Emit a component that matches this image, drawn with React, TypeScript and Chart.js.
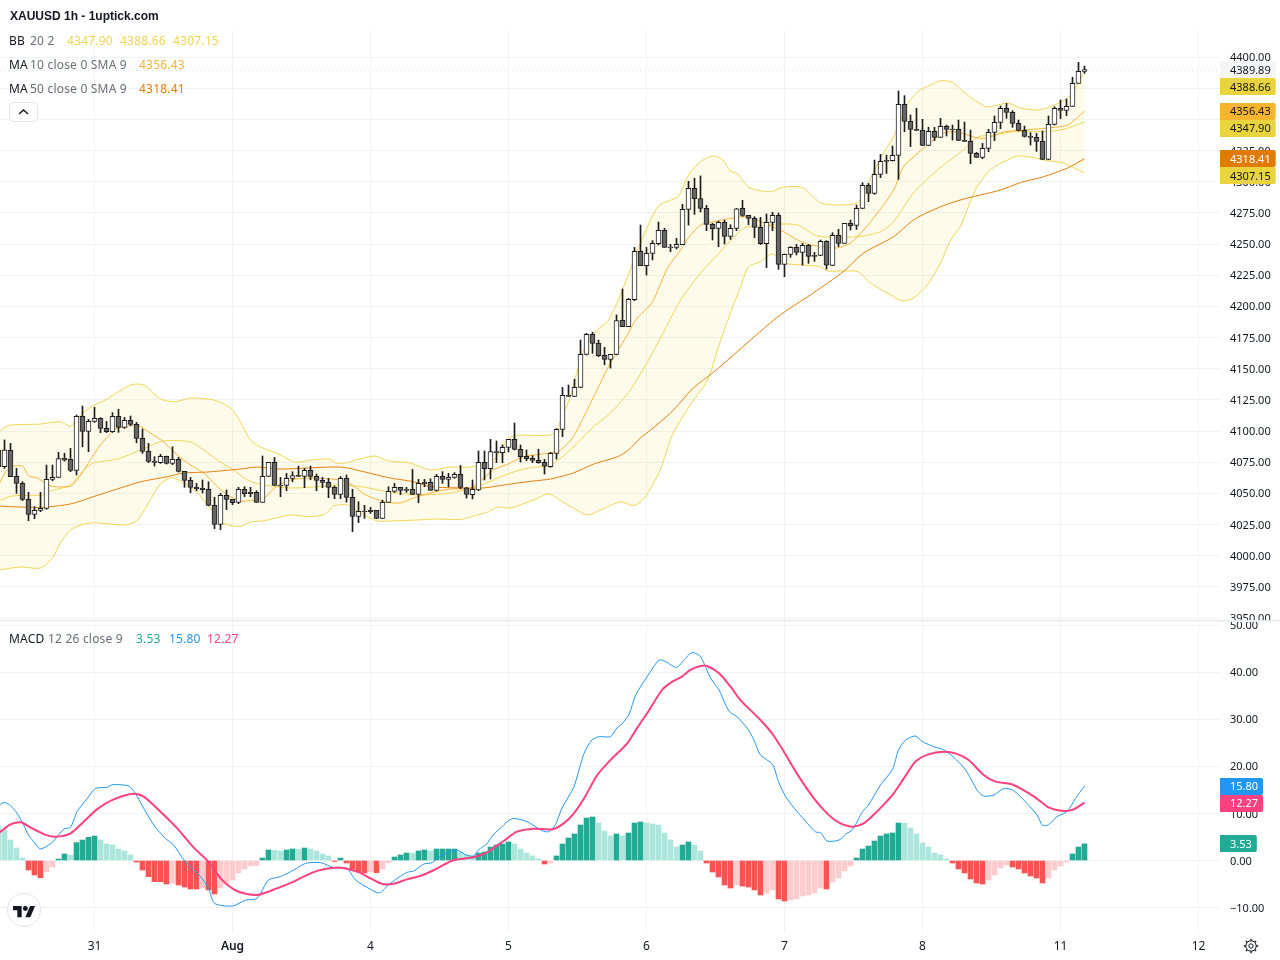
import React, { useEffect, useRef } from "react";
import { Chart, registerables } from "chart.js";

Chart.register(...registerables);

const opens = [
  4084.7,4071.4,4084.5,4063.6,4058.0,4045.2,4033.1,4036.3,4038.0,4061.2,
  4062.8,4078.1,4077.3,4068.4,4111.8,4099.7,4107.7,4110.2,4102.1,4099.5,
  4111.8,4102.9,4108.5,4105.3,4094.1,4083.7,4075.9,4074.6,4079.7,4074.0,
  4077.3,4067.6,4060.4,4054.8,4054.0,4053.2,4040.4,4025.1,4048.4,4045.2,
  4042.8,4053.2,4050.8,4050.8,4042.8,4063.6,4074.9,4056.4,4056.4,4062.0,
  4064.4,4063.6,4068.4,4063.6,4060.4,4058.8,4054.8,4049.2,4062.0,4046.8,
  4031.5,4035.5,4036.3,4036.3,4029.9,4042.8,4051.6,4054.8,4053.5,4053.2,
  4049.2,4058.8,4058.8,4052.4,4063.6,4061.2,4062.8,4065.2,4054.5,4048.9,
  4052.7,4074.9,4069.8,4083.4,4082.6,4086.9,4093.3,4085.3,4079.7,4078.1,
  4076.5,4074.9,4071.4,4082.1,4101.3,4128.6,4127.8,4135.0,4161.5,4177.6,
  4170.3,4160.7,4157.5,4161.5,4188.8,4183.7,4205.3,4244.1,4232.6,4242.5,
  4250.3,4261.0,4247.6,4247.3,4249.5,4277.8,4294.7,4286.4,4278.6,4265.8,
  4262.6,4267.4,4256.1,4262.6,4278.6,4273.0,4270.6,4263.4,4250.3,4267.4,
  4273.0,4233.7,4241.7,4247.3,4243.3,4248.9,4240.9,4240.9,4252.1,4232.9,
  4257.0,4250.5,4266.5,4264.9,4278.6,4297.0,4290.6,4305.8,4317.1,4316.8,
  4321.1,4362.0,4348.4,4342.0,4341.2,4329.1,4340.4,4335.5,4344.4,4342.2,
  4342.0,4333.1,4332.3,4322.7,4319.5,4326.7,4339.6,4347.6,4358.8,4355.6,
  4346.8,4341.2,4336.3,4335.5,4332.3,4317.9,4345.9,4358.8,4357.2,4360.4,
  4378.9,4388.5,
];
const highs = [
  4088.8,4092.8,4090.1,4070.0,4059.3,4050.8,4039.3,4050.8,4072.7,4072.7,
  4082.9,4082.1,4086.1,4112.8,4120.0,4109.3,4119.0,4110.7,4107.7,4114.7,
  4117.4,4110.9,4112.0,4106.9,4101.6,4090.1,4079.4,4081.3,4079.9,4087.4,
  4078.9,4067.6,4062.8,4058.0,4060.7,4059.3,4046.8,4050.0,4052.7,4045.2,
  4054.8,4055.3,4054.8,4052.1,4079.9,4074.9,4078.9,4062.8,4066.0,4067.4,
  4071.9,4070.0,4071.9,4065.5,4062.8,4062.0,4055.9,4063.4,4064.7,4053.2,
  4043.3,4040.4,4038.8,4036.3,4044.6,4055.3,4058.0,4054.8,4054.8,4069.2,
  4061.2,4061.2,4061.7,4065.2,4067.4,4066.0,4066.6,4072.4,4054.8,4060.7,
  4084.0,4084.0,4093.3,4092.0,4088.8,4093.3,4106.4,4088.8,4084.8,4080.2,
  4085.3,4077.3,4082.9,4101.9,4135.0,4136.9,4141.5,4173.0,4178.4,4179.2,
  4173.0,4167.1,4161.5,4193.1,4213.9,4206.4,4247.3,4265.2,4247.3,4252.7,
  4267.6,4262.6,4249.7,4254.5,4281.8,4300.3,4302.7,4304.6,4281.0,4266.6,
  4268.4,4269.0,4265.5,4278.6,4285.0,4273.0,4271.9,4271.4,4274.1,4275.4,
  4274.9,4242.0,4247.9,4249.7,4250.5,4249.7,4243.3,4253.2,4252.7,4259.1,
  4261.8,4266.5,4269.2,4281.2,4299.2,4298.6,4317.3,4321.9,4321.3,4328.6,
  4372.7,4369.0,4353.5,4358.8,4350.0,4343.6,4343.6,4350.8,4345.4,4345.4,
  4349.4,4347.8,4341.4,4323.5,4330.7,4342.0,4352.7,4360.7,4362.8,4356.9,
  4349.4,4344.6,4339.3,4338.7,4340.6,4352.7,4360.1,4365.5,4366.3,4383.7,
  4395.7,4392.8,
];
const lows = [
  4069.0,4070.0,4063.4,4050.0,4044.1,4028.1,4029.7,4035.3,4037.2,4060.1,
  4062.6,4075.9,4067.4,4064.7,4087.4,4083.4,4106.9,4098.7,4098.7,4098.9,
  4098.9,4102.1,4104.3,4090.6,4082.1,4074.6,4071.9,4074.0,4073.5,4073.0,
  4067.1,4054.8,4050.5,4052.1,4050.3,4040.1,4021.6,4020.8,4036.9,4040.9,
  4041.7,4047.3,4047.3,4042.8,4042.8,4063.6,4056.4,4047.3,4052.1,4059.3,
  4063.6,4054.5,4060.9,4052.1,4054.5,4046.5,4045.7,4045.7,4043.0,4019.2,
  4026.5,4029.9,4033.9,4029.7,4029.7,4042.8,4050.8,4048.9,4050.8,4048.9,
  4042.5,4055.3,4052.4,4051.9,4058.0,4055.3,4062.0,4053.7,4046.2,4045.5,
  4052.1,4060.7,4061.5,4074.6,4074.6,4083.2,4084.8,4075.1,4076.2,4074.6,
  4074.1,4065.5,4070.9,4077.5,4095.5,4127.5,4127.5,4134.8,4161.0,4162.3,
  4159.6,4153.2,4150.5,4161.0,4183.7,4183.7,4204.5,4232.6,4225.1,4237.2,
  4249.2,4247.3,4243.8,4246.0,4249.5,4265.2,4273.8,4275.7,4260.7,4253.2,
  4247.9,4250.0,4253.7,4260.7,4272.2,4265.5,4255.1,4249.5,4231.0,4260.7,
  4229.7,4223.8,4239.3,4241.2,4233.1,4234.5,4236.1,4240.6,4229.9,4232.6,
  4247.9,4250.5,4261.2,4261.7,4278.3,4283.9,4289.8,4303.2,4306.6,4316.6,
  4301.8,4340.1,4328.1,4340.9,4328.9,4328.9,4332.9,4335.5,4336.6,4333.4,
  4332.9,4332.1,4314.4,4319.5,4318.4,4324.0,4332.9,4342.5,4350.8,4343.6,
  4340.6,4335.8,4329.4,4324.3,4317.6,4317.6,4345.4,4350.5,4352.9,4360.4,
  4378.9,4386.9,
];
const closes = [
  4071.4,4084.7,4063.4,4058.0,4045.2,4033.1,4036.3,4038.0,4061.2,4062.8,
  4077.8,4076.7,4068.4,4111.8,4099.7,4107.7,4110.2,4102.1,4099.5,4111.8,
  4102.9,4108.5,4105.3,4094.1,4083.7,4075.7,4074.9,4079.7,4074.0,4077.3,
  4067.6,4060.4,4054.8,4053.7,4052.9,4040.4,4025.1,4048.4,4045.2,4042.5,
  4053.2,4049.7,4049.7,4042.8,4063.6,4074.9,4056.4,4055.9,4062.0,4064.2,
  4063.6,4068.4,4063.6,4060.4,4058.8,4054.8,4049.2,4062.0,4046.8,4031.5,
  4035.5,4035.3,4035.3,4029.9,4042.8,4051.6,4054.8,4052.4,4052.4,4049.2,
  4058.0,4057.7,4052.4,4063.6,4061.2,4062.8,4065.2,4054.8,4049.2,4053.2,
  4074.9,4069.8,4083.4,4082.6,4086.9,4093.3,4085.3,4079.4,4077.8,4076.5,
  4074.6,4071.7,4082.1,4101.3,4128.6,4127.8,4135.0,4161.5,4177.6,4170.3,
  4160.4,4157.5,4161.5,4188.5,4183.7,4205.6,4244.1,4232.6,4242.5,4250.5,
  4261.0,4247.3,4247.1,4249.7,4277.8,4294.7,4286.4,4278.6,4265.8,4262.3,
  4267.4,4256.1,4262.6,4278.3,4273.0,4270.6,4263.4,4250.3,4267.4,4273.0,
  4233.7,4241.7,4247.3,4243.3,4248.9,4240.1,4240.1,4252.1,4233.1,4257.0,
  4250.5,4266.5,4264.7,4278.6,4297.0,4290.6,4305.8,4316.3,4316.3,4321.1,
  4362.0,4348.4,4342.0,4341.2,4329.1,4340.4,4335.5,4344.4,4342.0,4341.7,
  4333.1,4332.3,4322.7,4319.5,4326.7,4339.6,4347.6,4358.8,4355.6,4346.8,
  4341.2,4336.3,4335.5,4332.3,4317.9,4345.9,4358.8,4357.2,4360.4,4378.9,
  4388.5,4389.89,
];

const bbUpperAt = [0,1,2,7,10.3,12,12.7,14,16,17.8,20,22,23.2,24.5,27,29.5,32,35.8,38.7,40.3,42,44,46.2,49.5,52,55.3,56.2,57.8,59.5,62.8,64.5,66.2,68.7,72,75.3,78.7,82.5,85.3,92,93.2,93.7,95.3,97.5,99.8,101.7,104.2,107,110,113.2,115,117,119,120.7,122,123.2,125,127.8,129.2,130.8,134,137,140,143.2,144.2,147.5,149.5,151.2,153.2,155.3,157,159,160.8,162.8,164.8,166.5,168.3,170.3,173.2,175.3,178.2,179.8,181];
const bbUpper = [4099.2,4102.7,4104.8,4105.6,4107.5,4103.5,4107.5,4114.4,4120.9,4124.9,4131.5,4136.9,4137.7,4136.3,4125.7,4123.5,4126.5,4124.9,4118.5,4107.5,4092.8,4086.4,4082.6,4075.1,4076.7,4077.5,4074.3,4074.3,4076.7,4080.0,4076.7,4075.4,4074.3,4068.7,4071.1,4071.1,4076.7,4095.2,4096.8,4101.6,4108.8,4127.5,4165.0,4181.0,4189.0,4215.8,4250.8,4280.5,4288.0,4305.3,4316.0,4320.6,4317.4,4308.6,4306.2,4295.7,4292.0,4292.5,4295.7,4295.2,4283.1,4281.3,4283.1,4292.0,4323.0,4339.0,4360.1,4372.2,4377.5,4381.0,4379.7,4372.2,4365.0,4359.9,4361.5,4363.1,4359.1,4357.5,4360.1,4367.1,4377.5,4388.66];

const bbLowerAt = [0,3.7,7,9,10.3,12,13.7,15.8,18.7,21.2,23.2,24.8,27,29,30.8,33.2,34.8,36.5,37.8,40.3,42,44.2,48.7,52,54.5,55.8,58.2,60.3,63.2,65.3,69.8,73.2,77,79.8,81.7,83.2,85.3,89.2,91.7,94,95.8,98.2,100.3,103.7,105.8,107,108,110.3,112.3,115.3,118.2,120,122,123.7,125,127,129,130.8,133.7,137,138.2,143.2,145.3,148.7,150.7,152.5,154.8,157,158.7,160.3,162.8,164.8,166.2,168.2,169.8,172,174.2,177.5,179.2,181];
const bbLower = [3988.5,3990.9,3990.1,3998.1,4010.2,4020.6,4024.6,4026.5,4025.4,4024.6,4028.6,4040.7,4057.5,4062.6,4058.3,4050.3,4040.7,4031.3,4025.4,4023.4,4027.0,4028.0,4032.6,4031.3,4033.4,4039.8,4040.7,4034.2,4027.8,4027.8,4028.6,4029.4,4029.0,4032.6,4035.3,4039.0,4038.2,4044.7,4049.5,4043.3,4038.2,4032.6,4036.6,4043.1,4040.1,4043.3,4048.7,4068.7,4096.8,4120.9,4140.9,4167.6,4194.7,4215.8,4231.6,4235.8,4242.0,4234.8,4233.2,4231.8,4228.3,4227.8,4218.7,4209.1,4204.3,4206.7,4217.1,4234.8,4253.2,4263.9,4293.3,4307.0,4312.6,4317.4,4320.6,4319.8,4317.4,4315.0,4311.0,4307.15];

const bbBasisAt = [0,2.3,7.5,8.7,12,14.2,15.8,19.8,23.7,27.5,32,34.2,36.5,39.2,41.5,44.2,48.7,52.5,57,60.8,64.8,69.8,75.3,80,85.3,88.7,92,95.3,99.2,102,105.3,109,113.7,117,119.8,124.2,126.5,130.3,133.2,136.5,143.2,147,149.2,152.5,156.5,160.8,163.2,165.8,169.2,173.2,177,181];
const bbBasis = [4043.9,4047.9,4048.7,4051.9,4056.7,4068.7,4074.3,4077.5,4084.8,4092.0,4091.2,4084.8,4076.7,4068.7,4060.7,4056.7,4054.3,4055.1,4056.7,4055.1,4051.3,4048.7,4050.3,4055.9,4066.3,4070.6,4072.7,4084.8,4103.5,4114.4,4132.9,4162.6,4205.1,4226.7,4241.2,4262.8,4264.4,4266.0,4265.2,4256.4,4255.9,4259.9,4267.9,4290.9,4309.4,4325.4,4335.8,4337.4,4340.1,4340.1,4341.4,4347.90];

const ma10At = [0,1.7,4,5,6.5,8.7,12,13.7,15.3,17,19.5,21.2,23.2,25.3,27.5,29.8,32,34.2,36.5,38.2,40.3,42.8,44.5,46.2,48.7,52,57,58.7,61.2,64.5,67,69.2,72,75.3,78.7,82.5,85.3,87.5,92,93.7,95.8,99.2,102,105,106.2,109,111.5,113.7,115,117,119.2,122.5,124.8,127.5,130.3,133.2,135.3,137.5,139.8,142,144.2,146.5,149.2,150.8,152.5,154.2,157.5,159.8,163.2,164.8,167.5,170.8,174.8,178.2,181];
const ma10 = [4056.7,4070.3,4071.9,4064.2,4062.3,4055.9,4055.9,4064.7,4076.7,4088.8,4101.6,4103.5,4104.8,4098.4,4091.4,4080.8,4072.7,4066.3,4055.3,4048.7,4043.9,4044.7,4047.1,4055.1,4060.7,4062.3,4060.7,4057.5,4048.7,4043.1,4042.3,4046.3,4050.3,4053.5,4054.3,4068.7,4074.3,4079.4,4082.4,4084.8,4095.4,4127.5,4154.6,4178.6,4189.0,4203.7,4230.8,4245.2,4255.1,4265.2,4267.9,4270.9,4271.9,4266.8,4261.2,4253.2,4249.2,4247.8,4246.8,4250.8,4261.2,4274.9,4293.3,4312.0,4319.8,4327.0,4339.0,4339.8,4335.0,4335.0,4339.8,4341.4,4343.0,4345.5,4356.43];

const ma50At = [0,3.7,7.5,12,15.8,20.3,23.7,28.2,30.8,34.8,40.3,43.2,47,57,60.8,65.3,69.2,72,77.5,80.8,85.3,89.2,92,95.8,99.2,103.2,105,107,108.7,112,113.7,115.8,119.2,122.5,129.2,131.5,135.8,140.8,144.2,149.2,152.5,156.5,160.3,167,170.3,174.2,178.2,181];
const ma50 = [4039.8,4039.0,4038.8,4041.5,4047.3,4054.3,4059.3,4063.4,4066.3,4067.1,4069.5,4071.1,4069.5,4071.1,4067.4,4062.3,4059.3,4055.3,4054.3,4054.3,4057.5,4059.9,4061.5,4066.3,4073.5,4079.4,4084.8,4094.4,4100.8,4114.4,4123.3,4134.5,4147.3,4161.0,4189.0,4197.1,4210.7,4227.8,4242.8,4255.9,4269.3,4278.9,4285.3,4293.3,4299.2,4304.0,4311.0,4318.41];

const macdHist = [
  7.2,6.48,4.35,2.65,.53,-2.02,-3.08,-3.64,-2.37,-1.38,
  .32,1.38,1.17,3.79,4.35,4.92,5.2,4.35,3.5,3.29,
  2.44,2.02,1.17,-.32,-2.02,-3.43,-4.49,-4.49,-4.99,-4.78,
  -5.2,-5.63,-6.05,-6.05,-5.84,-6.26,-7.11,-5.84,-4.99,-4.14,
  -2.65,-1.8,-1.17,-1.1,.53,2.23,2.15,2.02,2.23,2.44,
  2.4,2.65,2.44,2.02,1.38,.96,-.2,.53,-.53,-1.88,
  -2.44,-2.65,-2.4,-2.58,-1.8,-.46,.74,1.17,1.59,1.55,
  2.02,2.23,2.02,2.44,2.44,2.44,2.44,1.8,1.17,.96,
  1.59,1.8,2.87,3.29,3.5,3.93,3.5,2.44,1.59,.96,
  .32,-.74,-.53,.96,3.5,4.78,5.63,7.54,9.02,9.24,
  7.96,6.26,5.2,5.63,5.2,5.84,7.96,8.17,7.96,7.75,
  7.54,5.84,4.35,2.87,3.29,3.93,3.29,2.02,-.53,-2.44,
  -3.5,-5.2,-5.84,-5.2,-5.41,-5.63,-6.26,-7.32,-6.9,-6.26,
  -8.17,-8.6,-8.39,-8.17,-7.54,-7.32,-6.9,-5.84,-6.05,-4.56,
  -3.72,-2.23,-1.17,.53,2.44,3.08,4.14,5.2,5.63,5.84,
  7.96,7.9,6.9,5.63,3.72,2.87,1.59,1.17,.32,-.53,
  -1.8,-2.65,-3.93,-4.78,-4.99,-4.14,-3.08,-1.59,-.96,-1.38,
  -1.8,-2.65,-3.29,-3.72,-4.78,-3.72,-2.02,-1.17,-.32,1.38,
  2.87,3.53,
];

const macdAt = [0,1,2,3.1,4.2,5,6.2,7,8.9,10.9,12,13.1,14.8,16.2,18.1,19,21.7,22.8,24.2,26,27.8,29.2,30.9,33.7,35,36,39,41.2,43.1,45,47,49.2,51.2,53.7,55.9,58.1,59.5,62,63.5,65,66.2,68.1,69.2,70.9,72.3,73.7,76.2,78.1,79.2,80.1,81.2,82.6,83.9,85.1,85.9,88.1,90.6,91.7,92.8,93.9,95.9,97.6,98.9,100.1,102,103.1,103.9,105.1,106.2,108.1,110.1,111.2,113,114.5,115.3,115.9,117,118.7,120.1,121.2,122,123.1,125,125.9,127,129,130,131.2,133.1,134.8,136.2,137,138.1,140.1,141.2,142.3,144,145,147,149,150,151.2,152.8,154,155.9,157.6,159.2,161.2,163.1,164.2,165.9,167.6,169.2,171.4,173.1,174,175,176.4,178.1,179.5,181];
const macdLine = [11.7,12.35,11.64,10.01,7.54,5.41,3.5,2.44,3.79,6.69,7.04,10.37,13.2,15.32,15.53,16.1,15.82,14.26,11.08,7.32,4.71,3.29,.11,-3.43,-5.91,-9.09,-9.66,-8.39,-8.03,-4.14,-3.43,-2.02,-.6,-.46,-1.52,-1.66,-4.14,-6.12,-6.9,-5.2,-4.0,-2.51,-2.23,-.74,-.46,.96,2.23,1.1,.96,2.37,3.29,5.63,7.18,8.53,8.95,8.24,6.33,6.12,7.54,11.08,15.68,22.75,25.58,26.29,26.29,28.2,28.98,31.1,35.13,39.03,42.57,42.21,41.01,42.92,43.98,44.13,43.29,38.68,36.2,33.0,31.39,30.54,27.71,25.58,22.4,20.42,16.74,13.55,10.37,7.89,6.05,5.91,4.14,4.35,5.63,6.48,10.37,11.78,16.03,19.36,23.46,25.58,26.43,25.23,24.17,23.46,21.9,19.21,14.97,13.69,13.91,15.32,14.83,12.14,9.66,7.47,7.61,9.31,10.37,13.2,15.80];

const signalAt = [0,2,3.7,5.3,7.6,9.5,12,14.2,16.4,19.2,22.5,24.2,27,29.8,32.5,35,37,39.2,41.4,43.4,46.4,49.2,52,54.2,57,59.8,62,64,66,68.1,70.3,72.6,75.9,79.2,81.4,84.2,86.4,89.2,92.3,94.2,95.9,97.6,99.8,102,104.8,106.4,108.1,110.6,112.3,113.9,115.3,117,118.1,120.1,122,123.7,127,129,130.9,133.4,135.9,138.1,140.1,142.3,144.2,146.4,149,150.9,152.8,155,157.6,159.5,161.7,164.2,166.2,168.7,170.3,172.8,175,177.6,179.2,181];
const signalLine = [5.77,7.68,8.1,7.04,5.56,5.06,5.77,8.24,10.86,12.99,14.19,13.55,10.37,6.83,2.8,-.25,-3.79,-6.12,-7.11,-7.25,-5.91,-4.49,-2.72,-1.88,-1.52,-2.37,-3.79,-5.0,-4.9,-4.0,-3.29,-2.02,.1,.67,1.73,4.14,6.12,6.76,6.62,7.89,10.01,13.2,18.15,21.34,24.88,28.06,31.25,36.2,37.97,39.03,40.45,41.3,41.3,39.74,36.91,34.0,29.83,26.86,23.11,17.8,13.2,10.0,8.03,7.18,7.89,10.37,13.91,17.44,20.98,22.54,23.11,22.75,21.34,18.15,16.74,16.24,15.32,13.41,11.29,10.51,10.86,12.27];

const priceTicks = [3950,3975,4000,4025,4050,4075,4100,4125,4150,4175,4200,4225,4250,4275,4300,4325,4350,4375,4400];
const macdTicks = [-10,0,10,20,30,40,50];
const dayTickBars = [16,39,62,85,108,131,154,177,200];
const dayTickLabels = ["31","Aug","4","5","6","7","8","11","12"];

const FONT = '"Noto Sans", sans-serif';
const BB = "#f2d552";
const MA10 = "#f8b437";
const MA50 = "#e67e0a";
const INK = "#1c1c1c";

const toPoints = (at: number[], vals: number[]) => at.map((x, k) => ({ x, y: vals[k] }));
const bars = closes.map((_, i) => i);

const histColor = (v: number, i: number) => {
  const prev = i === 0 ? Infinity : macdHist[i - 1];
  if (v >= 0) return v >= prev ? "#22ab94" : "#ace5dc";
  return v <= prev ? "#ff5252" : "#fccbcd";
};

const last = (a: number[]) => a[a.length - 1];

const tagPlugin = {
  id: "paneDecor",
  afterDraw(chart: any) {
    const { ctx, scales, chartArea } = chart;
    const py = scales.y;
    const my = scales.y2;
    ctx.save();
    ctx.fillStyle = "#e6e8ee";
    ctx.fillRect(0, Math.round(py.bottom) - 1, 1280, 1);
    ctx.fillStyle = "#f3f4f6";
    ctx.fillRect(0, Math.round(py.bottom), 1280, 1);
    const ly = Math.round(py.getPixelForValue(last(closes))) + 0.5;
    ctx.strokeStyle = "#dcdfe3";
    ctx.setLineDash([1, 3]);
    ctx.beginPath();
    ctx.moveTo(0, ly);
    ctx.lineTo(chartArea.right, ly);
    ctx.stroke();
    ctx.setLineDash([]);
    ctx.font = `11px ${FONT}`;
    ctx.textBaseline = "middle";
    const drawTags = (scale: any, tags: any[]) => {
      const sorted = tags
        .map((t) => ({ ...t, px: scale.getPixelForValue(t.v) }))
        .sort((a, b) => a.px - b.px);
      let prev = -100;
      for (const t of sorted) {
        const c = Math.max(t.px, prev + 17);
        prev = c;
        const text = t.v.toFixed(2);
        const w = 15 + ctx.measureText(text).width;
        ctx.fillStyle = t.bg;
        ctx.beginPath();
        ctx.roundRect(chartArea.right, Math.round(c - 8.5), w, 17, [0, 2, 2, 0]);
        ctx.fill();
        ctx.fillStyle = t.fg;
        ctx.textAlign = "left";
        ctx.fillText(text, chartArea.right + 10, Math.round(c) + 0.5);
      }
    };
    drawTags(py, [
      { v: last(closes), bg: "#f5f5f5", fg: "#131722" },
      { v: last(bbUpper), bg: "#ead43e", fg: "#131722" },
      { v: last(ma10), bg: "#f9b42d", fg: "#131722" },
      { v: last(bbBasis), bg: "#ead43e", fg: "#131722" },
      { v: last(ma50), bg: "#e27a00", fg: "#ffffff" },
      { v: last(bbLower), bg: "#ead43e", fg: "#131722" },
    ]);
    drawTags(my, [
      { v: last(macdLine), bg: "#2196f3", fg: "#ffffff" },
      { v: last(signalLine), bg: "#ff4081", fg: "#ffffff" },
      { v: last(macdHist), bg: "#22ab94", fg: "#ffffff" },
    ]);
    ctx.restore();
  },
};

const gridColor = "#f1f2f4";

export default function App() {
  const ref = useRef<HTMLCanvasElement>(null);
  useEffect(() => {
    const candleData = (a: number[], b: number[]) =>
      bars.map((i) => ({ x: i, y: [Math.min(a[i], b[i]), Math.max(a[i], b[i])] }));
    const line = (label: string, at: number[], vals: number[], color: string, order: number, width = 1, axis = "y", extra: any = {}) => ({
      type: "line" as const,
      label,
      data: toPoints(at, vals),
      borderColor: color,
      borderWidth: width,
      pointRadius: 0,
      tension: 0.25,
      yAxisID: axis,
      order,
      fill: false,
      ...extra,
    });
    const chart = new Chart(ref.current as HTMLCanvasElement, {
      type: "line",
      data: {
        datasets: [
          line("BB upper", bbUpperAt, bbUpper, BB, 20, 1, "y", { fill: "+1", backgroundColor: "rgba(247,226,90,0.12)" }),
          line("BB lower", bbLowerAt, bbLower, BB, 19),
          line("BB basis", bbBasisAt, bbBasis, BB, 18),
          line("MA 10", ma10At, ma10, MA10, 17),
          line("MA 50", ma50At, ma50, MA50, 16),
          {
            type: "bar" as const,
            label: "High-Low",
            data: candleData(lows, highs),
            backgroundColor: INK,
            barThickness: 1,
            grouped: false,
            yAxisID: "y",
            order: 6,
          },
          {
            type: "bar" as const,
            label: "Open-Close",
            data: candleData(opens, closes),
            backgroundColor: bars.map((i) => (closes[i] >= opens[i] ? "#ffffff" : "#666666")),
            borderColor: INK,
            borderWidth: 1,
            borderSkipped: false,
            barThickness: 5,
            grouped: false,
            yAxisID: "y",
            order: 5,
          },
          {
            type: "bar" as const,
            label: "MACD histogram",
            data: bars.map((i) => ({ x: i, y: macdHist[i] })),
            backgroundColor: macdHist.map(histColor),
            barThickness: 5,
            grouped: false,
            yAxisID: "y2",
            order: 4,
          },
          line("MACD", macdAt, macdLine, "#2196f3", 3, 1, "y2"),
          line("Signal", signalAt, signalLine, "#ff4081", 2, 2, "y2"),
        ] as any,
      },
      options: {
        responsive: false,
        animation: false,
        devicePixelRatio: 1,
        layout: { padding: { top: 30, left: 0, right: 0, bottom: 0 } },
        plugins: { legend: { display: false }, tooltip: { enabled: false } },
        events: [],
        scales: {
          x: {
            type: "linear",
            min: 0.25,
            max: 0.25 + 1220 / 6,
            offset: false,
            grid: { color: gridColor, drawTicks: false, offset: false },
            border: { display: false },
            afterBuildTicks: (s: any) => {
              s.ticks = dayTickBars.map((value) => ({ value }));
            },
            afterFit: (s: any) => {
              s.height = 28;
            },
            ticks: {
              autoSkip: false,
              maxRotation: 0,
              padding: 7,
              color: "#131722",
              font: (c: any) => ({ family: FONT, size: 12, weight: c.tick && c.tick.value === 39 ? "600" : "400" }),
              callback: (v: any) => dayTickLabels[dayTickBars.indexOf(v)] ?? "",
            },
          },
          y: {
            type: "linear",
            position: "right",
            stack: "panes",
            stackWeight: 591,
            min: 3947.6,
            max: 4421.66,
            grid: { color: gridColor, drawTicks: false },
            border: { display: false },
            afterBuildTicks: (s: any) => {
              s.ticks = priceTicks.map((value) => ({ value }));
            },
            afterFit: (s: any) => {
              s.width = 60;
            },
            ticks: {
              autoSkip: false,
              padding: 10,
              labelOffset: 1,
              crossAlign: "near",
              color: "#131722",
              font: { family: FONT, size: 11 },
              callback: (v: any) => Number(v).toFixed(2),
            },
          },
          y2: {
            type: "linear",
            position: "right",
            stack: "panes",
            stackWeight: 311,
            min: -15.18,
            max: 50.85,
            grid: { color: gridColor, drawTicks: false },
            border: { display: false },
            afterBuildTicks: (s: any) => {
              s.ticks = macdTicks.map((value) => ({ value }));
            },
            afterFit: (s: any) => {
              s.width = 60;
            },
            ticks: {
              autoSkip: false,
              padding: 10,
              labelOffset: 1,
              crossAlign: "near",
              color: "#131722",
              font: { family: FONT, size: 11 },
              callback: (v: any) => (Number(v) < 0 ? "\u2212" + Math.abs(Number(v)).toFixed(2) : Number(v).toFixed(2)),
            },
          },
        },
      } as any,
      plugins: [tagPlugin as any],
    });
    return () => chart.destroy();
  }, []);

  const label: React.CSSProperties = { position: "absolute", whiteSpace: "pre", fontFamily: FONT, fontSize: 12, lineHeight: "16px", color: "#6a6d78", letterSpacing: "0.2px" };
  const at = (left: number, top: number, color?: string, extra?: React.CSSProperties): React.CSSProperties => ({
    ...label,
    left,
    top,
    ...(color ? { color } : {}),
    ...extra,
  });
  return (
    <div style={{ position: "absolute", left: 0, top: 0, width: 1280, height: 960, overflow: "hidden", background: "#fff" }}>
      <canvas ref={ref} width={1280} height={960} style={{ display: "block" }} />
      <span style={at(10, 8, "#131722", { fontFamily: '"Liberation Sans", sans-serif', fontWeight: 700, fontSize: 12, letterSpacing: 0 })}>XAUUSD 1h - 1uptick.com</span>
      <span style={at(9, 33, "#131722")}>BB</span>
      <span style={at(30, 33)}>20 2</span>
      <span style={at(67, 33, "#f2d552")}>4347.90</span>
      <span style={at(120, 33, "#f2d552")}>4388.66</span>
      <span style={at(173, 33, "#f2d552")}>4307.15</span>
      <span style={at(9, 57, "#131722")}>MA</span>
      <span style={at(30, 57)}>10 close 0 SMA 9</span>
      <span style={at(139, 57, "#f8b437")}>4356.43</span>
      <span style={at(9, 81, "#131722")}>MA</span>
      <span style={at(30, 81)}>50 close 0 SMA 9</span>
      <span style={at(139, 81, "#e67e0a")}>4318.41</span>
      <span style={at(9, 631, "#131722")}>MACD</span>
      <span style={at(48, 631)}>12 26 close 9</span>
      <span style={at(136, 631, "#22ab94")}>3.53</span>
      <span style={at(169, 631, "#2196f3")}>15.80</span>
      <span style={at(207, 631, "#ff4081")}>12.27</span>
      <svg style={{ position: "absolute", left: 9, top: 102 }} width={29} height={20}>
        <rect x={0.5} y={0.5} width={28} height={19} rx={4} fill="#fff" stroke="#e0e3eb" />
        <path d="M10 12 L14.5 8 L19 12" fill="none" stroke="#131722" strokeWidth={1.5} />
      </svg>
      <svg style={{ position: "absolute", left: 6, top: 892 }} width={36} height={36}>
        <circle cx={18} cy={18} r={16.5} fill="#fff" stroke="#e0e3eb" />
        <g transform="translate(7,11.5) scale(0.62)">
          <path d="M14 22H7V11H0V4h14v18zM28 22h-8l7.5-18h8L28 22z" fill="#131722" />
          <circle cx={20} cy={8} r={4} fill="#131722" />
        </g>
      </svg>
      <svg style={{ position: "absolute", left: 1243, top: 938 }} width={16} height={16} viewBox="0 0 16 16">
        <circle cx={8} cy={8} r={2.2} fill="none" stroke="#131722" />
        <circle cx={8} cy={8} r={5.2} fill="none" stroke="#131722" />
        <path d="M8 0.8V2.8M8 13.2V15.2M0.8 8H2.8M13.2 8H15.2M2.9 2.9L4.3 4.3M11.7 11.7L13.1 13.1M2.9 13.1L4.3 11.7M11.7 4.3L13.1 2.9" stroke="#131722" strokeWidth={1.4} />
      </svg>
    </div>
  );
}
